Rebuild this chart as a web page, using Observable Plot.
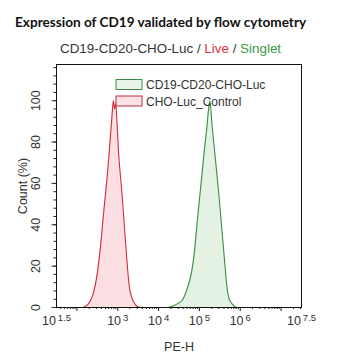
<!DOCTYPE html>
<html><head><meta charset="utf-8">
<script src="https://cdn.jsdelivr.net/npm/d3@7"></script>
<script src="https://cdn.jsdelivr.net/npm/@observablehq/plot@0.6"></script>
<style>
body{margin:0;background:#fff;}
#wrap{position:relative;width:355px;height:360px;}
#wrap svg{display:block;}
#overlay{position:absolute;left:0;top:0;pointer-events:none;}
</style></head><body><div id="wrap"></div>
<script>
// ---- data (x as log10 of PE-H, i.e. decades; y as Count %) ----
const controlExp = [2.15, 2.27, 2.37, 2.47, 2.57, 2.65, 2.74, 2.81, 2.86, 2.894, 2.923, 2.948, 2.985, 3.03, 3.10, 3.16, 3.22, 3.30, 3.38, 3.475, 3.57];
const controlPct = [0, 1.5, 5, 13, 28, 45, 63, 80, 93, 100, 96, 98.5, 88, 72, 56, 40, 24, 8, 3, 0.5, 0];
const cd19Exp = [4.236, 4.38, 4.48, 4.58, 4.68, 4.78, 4.86, 4.94, 5.02, 5.10, 5.186, 5.23, 5.255, 5.31, 5.39, 5.47, 5.54, 5.61, 5.68, 5.73, 5.81, 5.90];
const cd19Pct = [0, 1, 2, 3.5, 8, 14.5, 24, 40, 56, 72, 88, 97, 100, 88, 72, 56, 40, 24, 9, 4, 1.5, 0];

const seriesNames = ["CD19-CD20-CHO-Luc", "CHO-Luc_Control"];
const xLabelExp = [1.5, 3, 4, 5, 6, 7.5];
const xMajorExp = [2, 3, 4, 5, 6, 7];
const yMajor = [0, 20, 40, 60, 80, 100];
const titleText = "Expression of CD19 validated by flow cytometry";
const subtitleParts = ["CD19-CD20-CHO-Luc", "Live", "Singlet"];

const control = controlExp.map((e, i) => ({x: e, y: controlPct[i]}));
const cd19 = cd19Exp.map((e, i) => ({x: e, y: cd19Pct[i]}));

// minor log ticks (2..9 x 10^k) expressed in decades
const xMinor = [];
for (let k = 1; k <= 7; k++) for (let m = 2; m <= 9; m++) {
  const v = k + Math.log10(m);
  if (v > 1.5 && v < 7.5) xMinor.push(v);
}
const yMinor = d3.range(0, 117, 4);

const plot = Plot.plot({
  width: 355, height: 360,
  marginLeft: 56, marginRight: 54, marginTop: 64, marginBottom: 53,
  style: {fontFamily: "'Liberation Sans', Arial, sans-serif", fontSize: "12px", color: "#333", background: "#fff", overflow: "visible"},
  x: {type: "linear", domain: [1.5, 7.5]},
  y: {domain: [0, 117.5]},
  marks: [
    Plot.areaY(control, {x: "x", y: "y", fill: "#fbdfe3", curve: "catmull-rom"}),
    Plot.line(control, {x: "x", y: "y", stroke: "#d42a3c", strokeWidth: 1.1, curve: "catmull-rom"}),
    Plot.areaY(cd19, {x: "x", y: "y", fill: "#e4f2e4", curve: "catmull-rom"}),
    Plot.line(cd19, {x: "x", y: "y", stroke: "#3a8c44", strokeWidth: 1.1, curve: "catmull-rom"}),
    Plot.axisX(xMinor, {tickSize: 2, tickFormat: () => "", label: null, stroke: "#222"}),
    Plot.axisX(xMajorExp, {tickSize: 4, tickFormat: () => "", label: null, stroke: "#222"}),
    Plot.axisX(xLabelExp, {tickSize: 0, tickPadding: 9, fill: "#333", fontSize: 12.5,
      tickFormat: e => "10^" + e,
      label: "PE-H", labelAnchor: "center", labelOffset: 43, labelArrow: "none"}),
    Plot.axisY(yMinor, {tickSize: 2.5, tickFormat: () => "", label: null, stroke: "#222"}),
    Plot.axisY(yMajor, {tickSize: 4.5, tickPadding: 12, tickRotate: -90, textAnchor: "middle", fill: "#333", fontSize: 12.5,
      label: "Count (%)", labelAnchor: "center", labelOffset: 38, labelArrow: "none"}),
    Plot.frame({stroke: "#111"})
  ]
});
document.getElementById("wrap").appendChild(plot);

// superscript exponents on x tick labels
d3.select(plot).selectAll('g[aria-label="x-axis tick label"] text').each(function() {
  const t = this.textContent;
  if (!t.includes("^")) return;
  const [base, exp] = t.split("^");
  const sel = d3.select(this);
  sel.text(null);
  sel.append("tspan").text(base);
  sel.append("tspan").attr("dy", "-0.45em").attr("dx", "2").style("font-size", "9.5px").text(exp);
});

// title, subtitle, legend overlay
const ov = d3.select("#wrap").append("svg").attr("id", "overlay").attr("width", 355).attr("height", 360);
ov.append("text").attr("x", 15).attr("y", 26.5)
  .style("font-family", "Lato, 'Open Sans', sans-serif").style("font-weight", "bold").style("font-size", "13.6px")
  .attr("fill", "#111").text(titleText);
const st = ov.append("text").attr("x", 60).attr("y", 53)
  .style("font-family", "'Liberation Sans', Arial, sans-serif").style("font-size", "13.4px").attr("fill", "#333");
st.append("tspan").text(subtitleParts[0] + " / ");
st.append("tspan").attr("fill", "#e0323e").text(subtitleParts[1]);
st.append("tspan").text(" / ");
st.append("tspan").attr("fill", "#3a9a4a").text(subtitleParts[2]);

const legendStyles = [
  {fill: "#e6f3e6", stroke: "#3f8a47"},
  {fill: "#fde1e4", stroke: "#b83240"}
];
seriesNames.forEach((name, i) => {
  const y0 = 79.5 + i * 16.5;
  ov.append("rect").attr("x", 116).attr("y", y0).attr("width", 26).attr("height", 10)
    .attr("fill", legendStyles[i].fill).attr("stroke", legendStyles[i].stroke).attr("stroke-width", 1);
  ov.append("text").attr("x", 146).attr("y", y0 + 9.5)
    .style("font-family", "'Liberation Sans', Arial, sans-serif").style("font-size", "12px")
    .attr("fill", "#333").text(name);
});
</script>
</body></html>
